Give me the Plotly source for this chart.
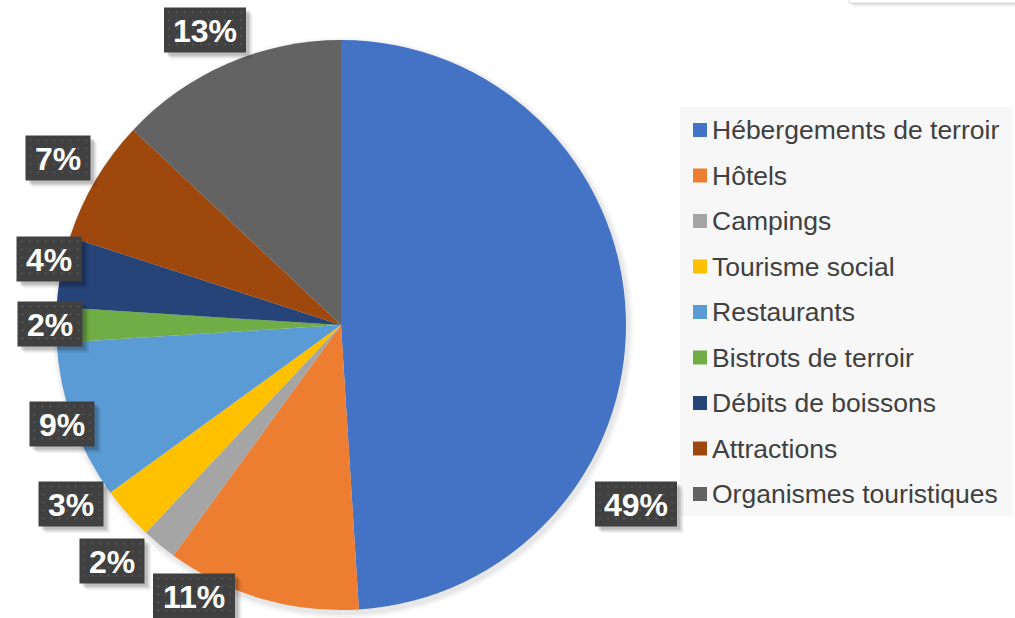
import plotly.graph_objects as go

# Canvas size in pixels
W, H = 1015, 618

# Data
categories = [
    "Hébergements de terroir",
    "Hôtels",
    "Campings",
    "Tourisme social",
    "Restaurants",
    "Bistrots de terroir",
    "Débits de boissons",
    "Attractions",
    "Organismes touristiques",
]
values = [49, 11, 2, 3, 9, 2, 4, 7, 13]
colors = ["#4472C4", "#ED7D31", "#A5A5A5", "#FFC000", "#5B9BD5",
          "#70AD47", "#264478", "#9E480E", "#636363"]

# Layout: pie geometry and callout-box centres (pixels)
PIE_CX, PIE_CY, PIE_R = 341, 325, 285
callout_centres = [(636, 504), (194, 596), (112, 561), (71, 504), (62, 424),
                   (50, 324), (49, 259), (58, 158), (205, 30)]
LEGEND_BOX = (680, 107, 1013, 516)
LEGEND_ROW0, LEGEND_STEP = 130, 45.5


def px(x):
    return x / W


def py(y):
    return 1 - y / H


fig = go.Figure()

fig.add_trace(go.Pie(
    labels=categories,
    values=values,
    sort=False,
    direction="clockwise",
    rotation=0,
    marker=dict(colors=colors, line=dict(width=0)),
    textinfo="none",
    hoverinfo="label+percent",
    showlegend=False,
    domain=dict(x=[px(PIE_CX - PIE_R), px(PIE_CX + PIE_R)],
                y=[py(PIE_CY + PIE_R), py(PIE_CY - PIE_R)]),
))

shapes = []
annotations = []

# soft shadow under the pie
for grow, alpha in [(6, 0.025), (4, 0.03), (2, 0.04)]:
    shapes.append(dict(
        type="circle", xref="paper", yref="paper", layer="below",
        x0=px(PIE_CX - PIE_R - grow + 2), x1=px(PIE_CX + PIE_R + grow + 2),
        y0=py(PIE_CY + PIE_R + grow + 3), y1=py(PIE_CY - PIE_R - grow + 3),
        fillcolor=f"rgba(0,0,0,{alpha})", line=dict(width=0)))

# partial framed box in the top-right corner
for off, alpha in [(4, 0.05), (2, 0.08)]:
    shapes.append(dict(
        type="rect", xref="paper", yref="paper", layer="below",
        x0=px(849 + off), x1=px(1030), y0=py(3 + off), y1=py(-20),
        fillcolor=f"rgba(0,0,0,{alpha})", line=dict(width=0)))
shapes.append(dict(
    type="rect", xref="paper", yref="paper", layer="below",
    x0=px(849), x1=px(1030), y0=py(3), y1=py(-20),
    fillcolor="white", line=dict(color="#d9d9d9", width=1)))

# legend panel
lx0, ly0, lx1, ly1 = LEGEND_BOX
shapes.append(dict(
    type="rect", xref="paper", yref="paper", layer="below",
    x0=px(lx0), x1=px(lx1), y0=py(ly1), y1=py(ly0),
    fillcolor="#f7f7f7", line=dict(width=0)))
for i, (name, col) in enumerate(zip(categories, colors)):
    yc = LEGEND_ROW0 + i * LEGEND_STEP
    shapes.append(dict(
        type="rect", xref="paper", yref="paper", layer="above",
        x0=px(693), x1=px(707), y0=py(yc + 7), y1=py(yc - 7),
        fillcolor=col, line=dict(width=0)))
    annotations.append(dict(
        xref="paper", yref="paper", x=px(710), y=py(yc),
        xanchor="left", yanchor="middle", showarrow=False,
        text=name, font=dict(family="Arial, Liberation Sans", size=26.5, color="#404040")))

# percentage callouts: dark dotted boxes with drop shadow
BOX_H = 45
for v, (cx, cy) in zip(values, callout_centres):
    txt = f"{v}%"
    w = 65 if len(str(v)) == 1 else 82
    x0, x1 = cx - w / 2, cx + w / 2
    y0, y1 = cy - BOX_H / 2, cy + BOX_H / 2
    for off, alpha in [(7, 0.03), (6, 0.04), (5, 0.05), (4, 0.07), (3, 0.09)]:
        shapes.append(dict(
            type="rect", xref="paper", yref="paper", layer="above",
            x0=px(x0 + off), x1=px(x1 + off), y0=py(y1 + off), y1=py(y0 + off),
            fillcolor=f"rgba(0,0,0,{alpha})", line=dict(width=0)))
    shapes.append(dict(
        type="rect", xref="paper", yref="paper", layer="above",
        x0=px(x0), x1=px(x1), y0=py(y1), y1=py(y0),
        fillcolor="#404040", line=dict(width=0)))
    # dot texture
    parts = []
    gy = y0 + 4
    while gy < y1 - 2:
        gx = x0 + 4
        while gx < x1 - 2:
            parts.append(f"M{px(gx):.5f},{py(gy):.5f} L{px(gx + 2):.5f},{py(gy):.5f} "
                         f"L{px(gx + 2):.5f},{py(gy + 2):.5f} L{px(gx):.5f},{py(gy + 2):.5f} Z")
            gx += 8
        gy += 8
    shapes.append(dict(
        type="path", xref="paper", yref="paper", layer="above",
        path=" ".join(parts), fillcolor="#545454", line=dict(width=0)))
    annotations.append(dict(
        xref="paper", yref="paper", x=px(cx), y=py(cy + 1),
        xanchor="center", yanchor="middle", showarrow=False,
        text=f"<b>{txt}</b>",
        font=dict(family="Arial, Liberation Sans", size=32, color="white")))

fig.update_layout(
    width=W, height=H,
    margin=dict(l=0, r=0, t=0, b=0),
    paper_bgcolor="white",
    plot_bgcolor="white",
    shapes=shapes,
    annotations=annotations,
    showlegend=False,
)

fig.write_html("out.html")
